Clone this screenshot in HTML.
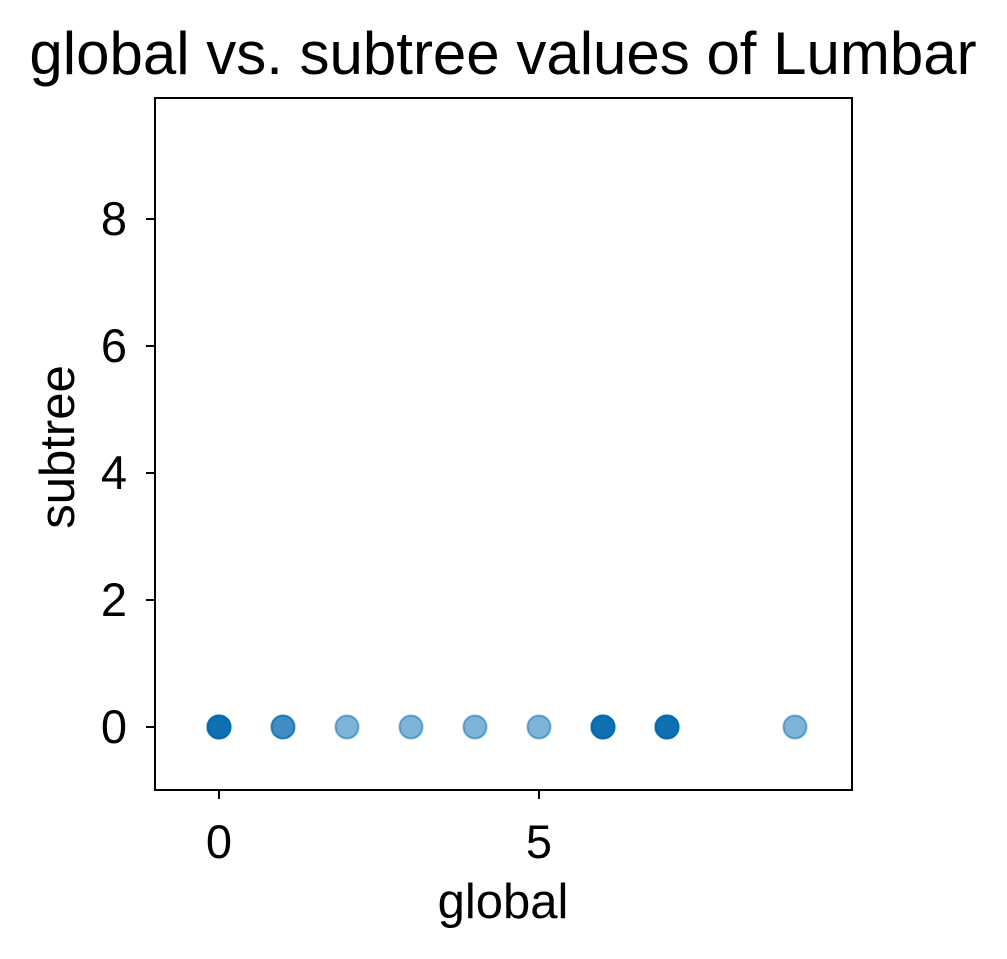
<!DOCTYPE html>
<html><head><meta charset="utf-8"><style>body{margin:0;background:#fff}svg{display:block;font-family:"Liberation Sans",Arial,sans-serif}</style></head>
<body>
<svg width="1007" height="959" viewBox="0 0 1007 959" xmlns="http://www.w3.org/2000/svg">
<g id="plot"></g>
<text x="503" y="74" font-size="60" text-anchor="middle">global vs. subtree values of Lumbar</text>
<text x="503" y="918" font-size="49" text-anchor="middle">global</text>
<text transform="translate(74,447) rotate(-90)" font-size="49" text-anchor="middle">subtree</text>
<rect x="155" y="98" width="697" height="692" fill="none" stroke="#000" stroke-width="2"/>
</svg>
<script>
const xValues = [0,0,0,0,1,1,2,3,4,5,6,6,6,6,7,7,7,7,9];
const yValues = [0,0,0,0,0,0,0,0,0,0,0,0,0,0,0,0,0,0,0];
const xTicks = [0,5];
const yTicks = [0,2,4,6,8];
const NS="http://www.w3.org/2000/svg";
const sx=v=>219+v*64;
const sy=v=>727-v*63.5;
const g=document.getElementById('plot');
function mk(t,a){const e=document.createElementNS(NS,t);for(const k in a)e.setAttribute(k,a[k]);return e;}
xValues.forEach((x,i)=>{
  const c=mk('circle',{cx:sx(x),cy:sy(yValues[i]),r:11.5,fill:'#0068b0','fill-opacity':0.5,stroke:'#0068b0','stroke-opacity':0.5,'stroke-width':2});
  
  
  g.appendChild(c);
});
xTicks.forEach(v=>{
  const l=mk('line',{x1:sx(v),x2:sx(v),y1:790,y2:799,stroke:'#000','stroke-width':2});
  
  
  g.appendChild(l);
  const t=mk('text',{x:sx(v),y:858,'font-size':47,'text-anchor':'middle'});
  t.textContent=v;
  
  
  g.appendChild(t);
});
yTicks.forEach(v=>{
  const l=mk('line',{x1:146,x2:155,y1:sy(v),y2:sy(v),stroke:'#000','stroke-width':2});
  
  
  g.appendChild(l);
  const t=mk('text',{x:127,y:sy(v)+16,'font-size':47,'text-anchor':'end'});
  t.textContent=v;
  
  
  g.appendChild(t);
});
</script>
</body></html>
